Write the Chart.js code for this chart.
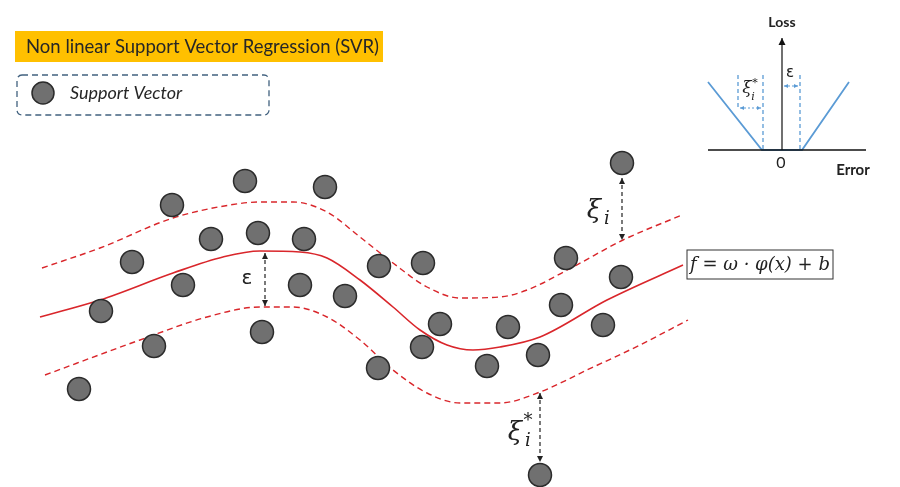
<!DOCTYPE html>
<html>
<head>
<meta charset="utf-8">
<script src="https://cdn.jsdelivr.net/npm/chart.js@4"></script>
<style>
  html, body { margin: 0; padding: 0; background: #fff; }
  #svr { display: block; }
</style>
</head>
<body>
<canvas id="svr" width="900" height="487"></canvas>
<script>
// support vectors (x right, y up)
const svX = [622, 245, 325, 172, 211, 258, 304, 132, 183, 379, 423, 566, 621, 300, 345, 101, 561, 440, 508, 603, 262, 154, 422, 538, 487, 378, 79, 540]
const svY = [324, 306, 300, 282, 248, 254, 248, 225, 202, 221, 224, 229, 210, 202, 191, 176, 182, 163, 160, 162, 155, 141, 140, 132, 121, 119, 98, 12]

// regression function f(x)
const fitX = [40, 100, 173, 223, 260, 300, 327, 360, 393, 420, 447, 473, 500, 540, 607, 683]
const fitY = [170, 187, 214, 230, 236, 235, 229, 207, 180, 157, 142, 137, 140, 150, 187, 222]

// +eps tube
const upX = [42, 100, 173, 230, 260, 293, 327, 360, 393, 427, 460, 500, 527, 573, 623, 682]
const upY = [219, 239, 269, 282, 285, 285, 275, 250, 224, 200, 189, 190, 197, 220, 247, 272]

// -eps tube
const lowX = [45, 140, 207, 260, 293, 327, 360, 393, 427, 460, 500, 540, 587, 640, 688]
const lowY = [112, 147, 170, 180, 180, 170, 147, 117, 94, 84, 84, 95, 117, 142, 167]

// eps-insensitive loss (inset)
const lossX = [708, 762, 802, 849]
const lossY = [405, 337, 337, 405]

const toPts = (xs, ys) => xs.map((x, i) => ({x: x, y: ys[i]}))

const RED = "#d9262b"
const BLUE = "#5b9bd5"
const INK = "#222"

function arrowHead(ctx, x, y, dx, dy, size) {
    const len = Math.hypot(dx, dy)
    const ux = dx / len, uy = dy / len
    ctx.beginPath()
    ctx.moveTo(x, y)
    ctx.lineTo(x - ux * size - uy * size * 0.5, y - uy * size + ux * size * 0.5)
    ctx.lineTo(x - ux * size + uy * size * 0.5, y - uy * size - ux * size * 0.5)
    ctx.closePath()
    ctx.fill()
}

function arrow(ctx, x1, y1, x2, y2, color, dash, both, size) {
    ctx.save()
    ctx.strokeStyle = color
    ctx.fillStyle = color
    ctx.lineWidth = 1.2
    ctx.setLineDash(dash)
    ctx.beginPath()
    ctx.moveTo(x1, y1)
    ctx.lineTo(x2, y2)
    ctx.stroke()
    ctx.setLineDash([])
    arrowHead(ctx, x2, y2, x2 - x1, y2 - y1, size)
    if (both) arrowHead(ctx, x1, y1, x1 - x2, y1 - y2, size)
    ctx.restore()
}

const annotations = {
    id: "annotations",
    afterDatasetsDraw(chart) {
        const ctx = chart.ctx
        const px = (v) => chart.scales.x.getPixelForValue(v)
        const py = (v) => chart.scales.y.getPixelForValue(v)

        // title
        ctx.save()
        ctx.fillStyle = "#ffc000"
        ctx.fillRect(15, 31, 368, 31)
        ctx.fillStyle = "#262626"
        ctx.font = "18.5px Lato"
        ctx.textBaseline = "middle"
        ctx.fillText("Non linear Support Vector Regression (SVR)", 26, 47)

        // legend box
        ctx.strokeStyle = "#41617f"
        ctx.lineWidth = 1.3
        ctx.setLineDash([6, 4])
        ctx.beginPath()
        ctx.roundRect(17, 75, 252, 40, 5)
        ctx.stroke()
        ctx.setLineDash([])
        ctx.beginPath()
        ctx.arc(43, 93, 11, 0, Math.PI * 2)
        ctx.fillStyle = "#707070"
        ctx.fill()
        ctx.strokeStyle = "#2b2b2b"
        ctx.lineWidth = 1.5
        ctx.stroke()
        ctx.fillStyle = "#262626"
        ctx.font = "italic 18px Lato"
        ctx.fillText("Support Vector", 70, 93)

        // formula box
        ctx.fillStyle = "#fff"
        ctx.fillRect(687, 250, 146, 29)
        ctx.strokeStyle = "#333"
        ctx.lineWidth = 1
        ctx.strokeRect(687, 250, 146, 29)
        ctx.fillStyle = "#222"
        ctx.font = "italic 18px 'DejaVu Serif'"
        ctx.textAlign = "center"
        ctx.fillText("f = \u03c9 \u00b7 \u03c6(x) + b", 760, 265)

        // margin arrows
        arrow(ctx, px(265), py(234), px(265), py(181), INK, [4, 3], true, 6)
        arrow(ctx, px(622), py(309), px(622), py(247), INK, [4, 3], true, 6)
        arrow(ctx, px(540), py(94), px(540), py(25), INK, [4, 3], true, 6)

        ctx.fillStyle = "#222"
        ctx.font = "20px 'DejaVu Sans'"
        ctx.fillText("\u03b5", px(247), py(208))
        ctx.font = "italic 26px 'DejaVu Serif'"
        ctx.fillText("\u03be", px(594), py(276))
        ctx.fillText("\u03be", px(515), py(54))
        ctx.font = "italic 18px 'DejaVu Serif'"
        ctx.fillText("i", px(607), py(268))
        ctx.fillText("i", px(528), py(46))
        ctx.fillText("*", px(528), py(66))

        // inset axes
        ctx.strokeStyle = "#111"
        ctx.lineWidth = 1.6
        ctx.beginPath()
        ctx.moveTo(px(708), py(337))
        ctx.lineTo(px(866), py(337))
        ctx.stroke()
        arrow(ctx, px(782), py(337), px(782), py(449), "#111", [], false, 7)

        ctx.font = "bold 14px Lato"
        ctx.fillStyle = "#222"
        ctx.fillText("Loss", px(782), py(465))
        ctx.font = "16px Lato"
        ctx.fillText("0", px(781), py(324))
        ctx.font = "bold 15px Lato"
        ctx.fillText("Error", px(853), py(317))

        // inset eps / xi markers
        ctx.strokeStyle = BLUE
        ctx.lineWidth = 1.3
        ctx.setLineDash([4, 3])
        ctx.beginPath()
        ctx.moveTo(px(738), py(412)); ctx.lineTo(px(738), py(379))
        ctx.moveTo(px(763), py(412)); ctx.lineTo(px(763), py(337))
        ctx.moveTo(px(800), py(412)); ctx.lineTo(px(800), py(337))
        ctx.stroke()
        ctx.setLineDash([])
        arrow(ctx, px(740), py(379), px(761), py(379), BLUE, [2, 2], true, 4)
        arrow(ctx, px(784), py(401), px(798), py(401), BLUE, [2, 2], true, 4)

        ctx.fillStyle = "#222"
        ctx.font = "15px 'DejaVu Sans'"
        ctx.fillText("\u03b5", px(790), py(414))
        ctx.font = "italic 17px 'DejaVu Serif'"
        ctx.fillText("\u03be", px(747), py(398))
        ctx.font = "italic 11px 'DejaVu Serif'"
        ctx.fillText("i", px(753), py(390))
        ctx.fillText("*", px(755), py(404))
        ctx.restore()
    }
}

new Chart(document.getElementById("svr"), {
    type: "scatter",
    data: {
        datasets: [
            {
                label: "Support Vector",
                data: toPts(svX, svY),
                pointRadius: 11.5,
                pointHoverRadius: 11.5,
                backgroundColor: "#707070",
                borderColor: "#2b2b2b",
                borderWidth: 1.5,
                order: 0
            },
            {
                type: "line",
                label: "f",
                data: toPts(fitX, fitY),
                borderColor: RED,
                borderWidth: 1.6,
                pointRadius: 0,
                cubicInterpolationMode: "monotone",
                order: 1
            },
            {
                type: "line",
                label: "+eps",
                data: toPts(upX, upY),
                borderColor: RED,
                borderWidth: 1.4,
                borderDash: [6, 4],
                pointRadius: 0,
                cubicInterpolationMode: "monotone",
                order: 1
            },
            {
                type: "line",
                label: "-eps",
                data: toPts(lowX, lowY),
                borderColor: RED,
                borderWidth: 1.4,
                borderDash: [6, 4],
                pointRadius: 0,
                cubicInterpolationMode: "monotone",
                order: 1
            },
            {
                type: "line",
                label: "loss",
                data: toPts(lossX, lossY),
                borderColor: BLUE,
                borderWidth: 1.8,
                pointRadius: 0,
                tension: 0,
                order: 1
            }
        ]
    },
    options: {
        responsive: false,
        animation: false,
        layout: { padding: 0, autoPadding: false },
        plugins: {
            legend: { display: false },
            tooltip: { enabled: false }
        },
        scales: {
            x: { type: "linear", min: 0, max: 900, display: false },
            y: { type: "linear", min: 0, max: 487, display: false }
        }
    },
    plugins: [annotations]
})
</script>
</body>
</html>
